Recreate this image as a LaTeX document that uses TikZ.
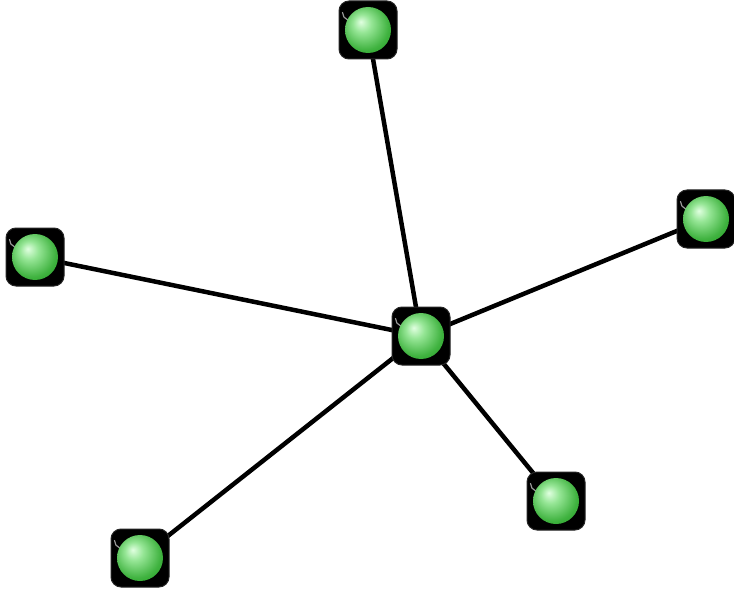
\documentclass[tikz,border=0pt]{standalone}
\pgfdeclareradialshading{greenball}{\pgfpoint{-8bp}{9bp}}{%
  color(0bp)=(green!12!white);
  color(10bp)=(green!35!white!90!black);
  color(26bp)=(green!60!black!75!white);
  color(40bp)=(green!55!black!90!white);
  color(50bp)=(green!50!black)}
\begin{document}
\begin{tikzpicture}[x=1pt,y=-1pt,
  hubbox/.style={fill=black, draw=black!85, line width=1pt, rounded corners=10pt,
    minimum width=58pt, minimum height=58pt, inner sep=0pt},
  link/.style={line width=4.5pt, black}]
\useasboundingbox (0,0) rectangle (734,591);
\foreach \n/\x/\y in {c/421/336, t/368/30, l/35/257, r/706/219, br/556/501, bl/140/558}{
  \coordinate (\n) at (\x,\y);
}
\foreach \n in {t,l,r,br,bl}{
  \draw[link] (c) -- (\n);
}
\foreach \n in {c,t,l,r,br,bl}{
  \node[hubbox] (\n box) at (\n) {};
  \draw[black!40, line width=1.2pt, line cap=round] ([shift={(4,12)}]\n box.north west) arc[start angle=180, end angle=110, radius=8];
  \shade[shading=greenball] (\n) circle[radius=23];
}
\end{tikzpicture}
\end{document}
